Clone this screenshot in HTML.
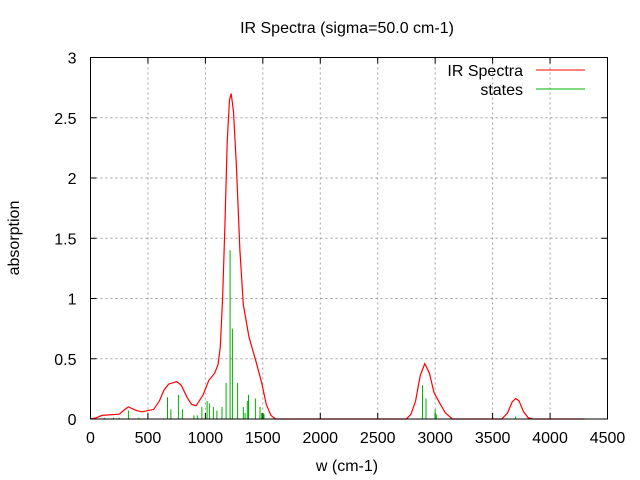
<!DOCTYPE html>
<html><head><meta charset="utf-8"><style>body{margin:0;background:#fff}svg{display:block}text{font-family:"Liberation Sans",sans-serif;font-size:16px;fill:#000}</style></head>
<body>
<svg id="s" width="640" height="480" xmlns="http://www.w3.org/2000/svg">
<text x="347" y="33" text-anchor="middle" font-size="15">IR Spectra (sigma=50.0 cm-1)</text>
<g id="grid" stroke="#a0a0a0" stroke-dasharray="2,3" stroke-width="1"></g>
<g id="ticks" stroke="#000" stroke-width="1"></g>
<g id="lab"></g>
<g id="sticks" stroke="#00b000" stroke-width="1"></g>
<polyline id="curve" fill="none" stroke="#ff0000" stroke-width="1.2"/>
<rect x="90.5" y="57.5" width="517" height="361.5" fill="none" stroke="#000"/>
<text x="523" y="76" text-anchor="end">IR Spectra</text>
<line x1="536" y1="70" x2="585" y2="70" stroke="#ff0000"/>
<text x="523" y="95" text-anchor="end">states</text>
<line x1="536" y1="89" x2="585" y2="89" stroke="#00b000"/>
<text x="347" y="471" text-anchor="middle">w (cm-1)</text>
<text transform="translate(19,238) rotate(-90)" text-anchor="middle">absorption</text>
</svg>
<script>
const L=90.5,R=607.5,T=57.5,B=419;
const X=v=>L+v*(R-L)/4500, Y=v=>B-v*(B-T)/3;
const ns="http://www.w3.org/2000/svg";
function el(p,t,a,txt){const e=document.createElementNS(ns,t);for(const k in a)e.setAttribute(k,a[k]);if(txt!==undefined)e.textContent=txt;document.getElementById(p).appendChild(e);}
for(let i=0;i<=9;i++){const x=X(i*500);
 if(i>0&&i<9)el("grid","line",{x1:x,y1:T,x2:x,y2:B});
 el("ticks","line",{x1:x,y1:B,x2:x,y2:B-6});el("ticks","line",{x1:x,y1:T,x2:x,y2:T+6});
 el("lab","text",{x:x,y:B+24,"text-anchor":"middle"},String(i*500));}
for(let i=0;i<=6;i++){const v=i*0.5,y=Y(v);
 if(i>0&&i<6)el("grid","line",{x1:L,y1:y,x2:R,y2:y});
 el("ticks","line",{x1:L,y1:y,x2:L+6,y2:y});el("ticks","line",{x1:R,y1:y,x2:R-6,y2:y});
 el("lab","text",{x:L-14,y:y+6,"text-anchor":"end"},String(v));}
const c=[[0,0],[50,0.01],[100,0.03],[250,0.04],[300,0.08],[330,0.1],[400,0.07],[450,0.06],[550,0.08],[600,0.15],[640,0.24],[680,0.29],[750,0.31],[790,0.28],[840,0.18],[880,0.12],[920,0.11],[980,0.2],[1030,0.32],[1080,0.38],[1110,0.45],[1130,0.6],[1150,1.0],[1170,1.6],[1190,2.3],[1210,2.65],[1225,2.7],[1245,2.55],[1270,2.1],[1300,1.4],[1330,0.95],[1380,0.68],[1440,0.48],[1490,0.3],[1530,0.12],[1570,0.03],[1610,0],[2750,0],[2790,0.04],[2830,0.15],[2870,0.36],[2910,0.46],[2950,0.38],[2990,0.22],[3040,0.13],[3090,0.05],[3150,0],[3580,0],[3630,0.05],[3670,0.14],[3700,0.17],[3730,0.15],[3770,0.06],[3810,0.01],[3850,0],[4300,0]];
document.getElementById("curve").setAttribute("points",c.map(p=>X(p[0]).toFixed(1)+","+Y(p[1]).toFixed(1)).join(" "));
const s=[[330,0.07],[120,0.01],[200,0.01],[250,0.01],[420,0.01],[700,0.08],[670,0.18],[765,0.2],[800,0.08],[900,0.03],[930,0.03],[970,0.1],[1015,0.15],[1035,0.13],[1070,0.1],[1100,0.07],[1145,0.1],[1180,0.3],[1215,1.4],[1235,0.75],[1280,0.3],[1330,0.1],[1345,0.05],[1365,0.15],[1375,0.2],[1435,0.17],[1475,0.1],[1490,0.05],[1510,0.04],[2890,0.28],[2920,0.17],[3000,0.08],[3010,0.04],[3700,0.02]];
s.forEach(p=>{const x=X(p[0]).toFixed(1);el("sticks","line",{x1:x,y1:B,x2:x,y2:Y(p[1])});});
</script>
</body></html>
